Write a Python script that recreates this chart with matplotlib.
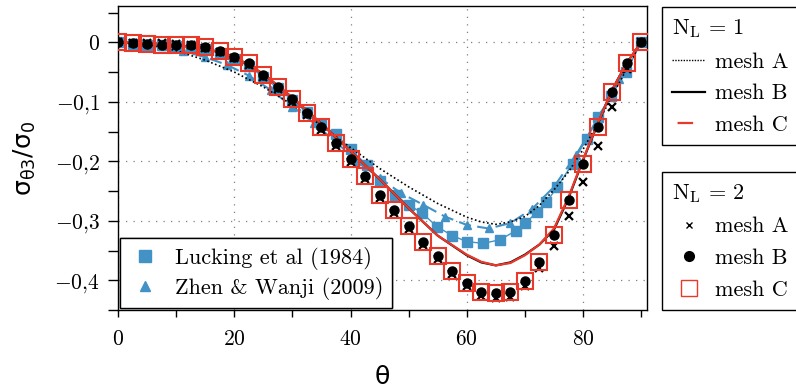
import matplotlib
matplotlib.use("Agg")
import matplotlib.pyplot as plt
from matplotlib.lines import Line2D
from matplotlib.ticker import MultipleLocator, FuncFormatter

plt.rcParams['mathtext.fontset'] = 'cm'

blue = '#4292c6'
red = '#e8392b'

# N_L = 1 curves
theta_line = [0, 5, 10, 15, 20, 25, 30, 35, 40, 45, 50, 55, 60, 62.5, 65, 67.5, 70, 72.5,
              75, 77.5, 80, 82.5, 85, 87.5, 90]
meshA_1 = [0, -0.004, -0.014, -0.03, -0.05, -0.075, -0.105, -0.14, -0.177, -0.212, -0.243,
           -0.271, -0.294, -0.302, -0.306, -0.302, -0.293, -0.274, -0.248, -0.218, -0.18,
           -0.137, -0.09, -0.045, 0]
meshB_1 = [0, -0.002, -0.005, -0.01, -0.024, -0.053, -0.093, -0.137, -0.183, -0.23, -0.279,
           -0.325, -0.358, -0.37, -0.375, -0.37, -0.357, -0.34, -0.315, -0.262, -0.198,
           -0.138, -0.08, -0.035, 0]
meshC_1 = [0, -0.002, -0.005, -0.01, -0.024, -0.053, -0.093, -0.137, -0.183, -0.23, -0.279,
           -0.325, -0.357, -0.369, -0.375, -0.371, -0.358, -0.34, -0.313, -0.26, -0.197,
           -0.137, -0.08, -0.035, 0]

# N_L = 2 points
theta_pts = [0, 2.5, 5, 7.5, 10, 12.5, 15, 17.5, 20, 22.5, 25, 27.5, 30, 32.5, 35, 37.5, 40,
             42.5, 45, 47.5, 50, 52.5, 55, 57.5, 60, 62.5, 65, 67.5, 70, 72.5, 75, 77.5, 80,
             82.5, 85, 87.5, 90]
meshB_2 = [0, -0.002, -0.003, -0.004, -0.004, -0.005, -0.008, -0.014, -0.024, -0.035, -0.055,
           -0.075, -0.096, -0.119, -0.143, -0.17, -0.197, -0.225, -0.256, -0.282, -0.309,
           -0.335, -0.36, -0.384, -0.404, -0.419, -0.422, -0.419, -0.401, -0.37, -0.324,
           -0.265, -0.205, -0.142, -0.083, -0.034, 0]
meshA_2 = [0, -0.001, -0.002, -0.002, -0.003, -0.005, -0.009, -0.016, -0.027, -0.038, -0.058,
           -0.079, -0.1, -0.123, -0.147, -0.175, -0.202, -0.23, -0.261, -0.287, -0.314,
           -0.34, -0.365, -0.389, -0.41, -0.426, -0.43, -0.428, -0.41, -0.38, -0.343,
           -0.292, -0.235, -0.174, -0.109, -0.045, 0]
meshC_2 = meshB_2

# reference solutions
theta_luck = [0, 2.5, 5, 7.5, 10, 12.5, 15, 17.5, 20, 22.5, 25, 27.5, 30, 32.5, 35, 37.5, 40,
              42.8, 45.1, 47.7, 50, 52.3, 54.9, 57.5, 60, 62.8, 65.7, 68.4, 70.1, 72, 73.7,
              75.5, 78.2, 80.6, 82.5, 84.8, 87.4, 90]
lucking = [0, -0.003, -0.004, -0.005, -0.006, -0.008, -0.012, -0.018, -0.028, -0.04, -0.058,
           -0.077, -0.097, -0.118, -0.138, -0.155, -0.18, -0.206, -0.234, -0.257, -0.273,
           -0.287, -0.31, -0.325, -0.335, -0.338, -0.332, -0.317, -0.304, -0.286, -0.269,
           -0.244, -0.204, -0.162, -0.125, -0.091, -0.05, 0]
theta_zhen = [0, 3.75, 7.5, 11.25, 15, 18.75, 22.5, 26.25, 30, 33.75, 37.5, 41.25, 45, 48.75,
              52.5, 56.25, 60, 63.75, 67.5, 71.25, 75, 78.75, 82.5, 86.25, 90]
zhen = [0, -0.002, -0.006, -0.015, -0.025, -0.038, -0.056, -0.08, -0.108, -0.136, -0.168,
        -0.2, -0.228, -0.254, -0.273, -0.293, -0.307, -0.313, -0.304, -0.28, -0.243, -0.19,
        -0.13, -0.062, 0]

fig = plt.figure(figsize=(7.96, 3.89), dpi=100)
ax = fig.add_axes([0.1482, 0.2031, 0.8128 - 0.1482, 0.9846 - 0.2031])

ax.grid(True, which='major', color='gray', linestyle=(0, (1, 5)), linewidth=0.9)

ax.plot(theta_luck, lucking, color=blue, lw=1.0, zorder=2)
h_luck, = ax.plot(theta_luck, lucking, 's', color=blue, ms=7, ls='none', zorder=2)
ax.plot(theta_zhen, zhen, color=blue, lw=1.5, dashes=(6, 3), zorder=2)
h_zhen, = ax.plot(theta_zhen, zhen, '^', color=blue, ms=6, ls='none', zorder=2)

ax.plot(theta_line, meshA_1, color='black', lw=1.2, linestyle=(0, (1, 1.5)), zorder=3)
ax.plot(theta_line, meshB_1, color='black', lw=1.6, zorder=3)
ax.plot(theta_line, meshC_1, color=red, lw=1.6, zorder=3)

h_a2, = ax.plot(theta_pts, meshA_2, 'x', color='black', ms=6, mew=1.6, ls='none', zorder=4)
h_b2, = ax.plot(theta_pts, meshB_2, 'o', color='black', ms=6.5, ls='none', zorder=5)
h_c2, = ax.plot(theta_pts, meshC_2, 's', mfc='none', mec=red, ms=12, mew=1.5, ls='none', zorder=6)

ax.set_xlim(0, 91)
ax.set_ylim(-0.45, 0.061)
ax.xaxis.set_major_locator(MultipleLocator(20))
ax.xaxis.set_minor_locator(MultipleLocator(10))
ax.yaxis.set_major_locator(MultipleLocator(0.1))
ax.yaxis.set_minor_locator(MultipleLocator(0.05))


def yfmt(v, pos):
    if abs(v) < 1e-9:
        return r'$0$'
    return r'$%s$' % ('%.1f' % v).replace('.', '{,}')


def xfmt(v, pos):
    return r'$%d$' % round(v)


ax.yaxis.set_major_formatter(FuncFormatter(yfmt))
ax.xaxis.set_major_formatter(FuncFormatter(xfmt))
ax.tick_params(axis='x', which='both', direction='out', length=5, width=1, labelsize=15.5, pad=9)
ax.tick_params(axis='y', which='both', direction='out', length=7, width=1, labelsize=15.5, pad=6)
for s in ax.spines.values():
    s.set_linewidth(1.0)

ax.set_xlabel(r'$\mathregular{θ}$', fontsize=18, math_fontfamily='dejavusans', labelpad=11)
ax.set_ylabel(r'$\mathregular{σ_{θ3}/σ_0}$', fontsize=18, math_fontfamily='dejavusans',
              labelpad=12)

lfont = {'family': ['cmr10', 'DejaVu Serif'], 'size': 16}

leg1 = ax.legend([h_luck, h_zhen], ['Lucking et al (1984)', 'Zhen & Wanji (2009)'],
                 loc='lower left', bbox_to_anchor=(0.004, 0.005), prop=lfont, fancybox=False,
                 edgecolor='black', framealpha=1, borderpad=0.4, labelspacing=0.3,
                 handlelength=1.4, handletextpad=0.65, borderaxespad=0.0, markerscale=1.15)
leg1.get_frame().set_linewidth(1.0)
ax.add_artist(leg1)

mesh_labels = ['mesh A', 'mesh B', 'mesh C']

p_a1 = Line2D([], [], color='black', lw=1.0, linestyle=(0, (1, 1)))
p_b1 = Line2D([], [], color='black', lw=1.6)
p_c1 = Line2D([], [], color=red, lw=1.6, linestyle=(13, (7, 8.5)))
leg2 = fig.legend([p_a1, p_b1, p_c1], mesh_labels,
                  title=r'$\mathrm{N_L\,=\,1}$', title_fontproperties={'size': 16},
                  loc='upper left', bbox_to_anchor=(662 / 796, 1 - 7 / 389), prop=lfont,
                  fancybox=False, edgecolor='black', framealpha=1, alignment='left',
                  handlelength=1.5, handletextpad=0.45, labelspacing=0.55, borderpad=0.45,
                  borderaxespad=0.0)
leg2.get_frame().set_linewidth(1.0)

p_a2 = Line2D([], [], marker='x', color='black', ms=5, mew=1.0, ls='none')
p_b2 = Line2D([], [], marker='o', color='black', ms=7, ls='none')
p_c2 = Line2D([], [], marker='s', mfc='none', mec=red, ms=12, mew=1.0, ls='none')
leg3 = fig.legend([p_a2, p_b2, p_c2], mesh_labels,
                  title=r'$\mathrm{N_L\,=\,2}$', title_fontproperties={'size': 16},
                  loc='lower left', bbox_to_anchor=(662 / 796, 1 - 310 / 389), prop=lfont,
                  fancybox=False, edgecolor='black', framealpha=1, alignment='left',
                  handlelength=1.5, handletextpad=0.45, labelspacing=0.55, borderpad=0.45,
                  borderaxespad=0.0)
leg3.get_frame().set_linewidth(1.0)

fig.savefig('out.png', dpi=100)
